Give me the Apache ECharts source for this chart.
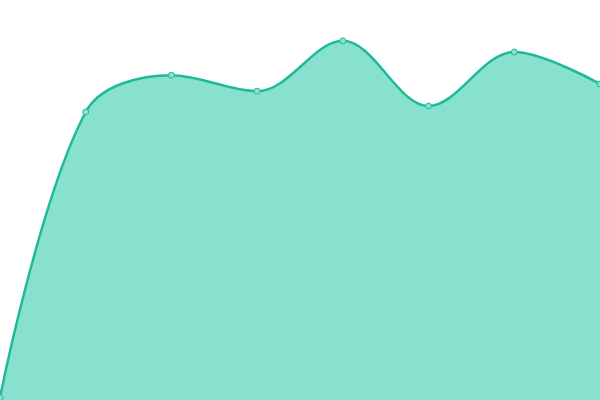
<!DOCTYPE html>
<html>
<head>
<meta charset="utf-8">
<script src="https://cdn.jsdelivr.net/npm/echarts@6/dist/echarts.min.js"></script>
<style>
    html, body { margin: 0; padding: 0; background: #fff; }
    #main { width: 600px; height: 400px; }
</style>
</head>
<body>
<div id="main"></div>
<script>
// 数据
var categories = ['1', '2', '3', '4', '5', '6', '7', '8'];
var values = [0.6, 72, 81.2, 77.2, 89.8, 73.5, 87, 79];

var myChart = echarts.init(document.getElementById('main'));
var option = {
    animation: false,
    grid: { left: 0, right: 0, top: 0, bottom: 0 },
    xAxis: {
        type: 'category',
        boundaryGap: false,
        data: categories,
        show: false
    },
    yAxis: {
        type: 'value',
        min: 0,
        max: 100,
        show: false
    },
    series: [
        {
            type: 'line',
            smooth: 0.35,
            data: values,
            symbol: 'circle',
            symbolSize: 6,
            lineStyle: { color: '#1fba98', width: 2.5 },
            itemStyle: { color: '#8ce0cf', borderColor: '#1fba98', borderWidth: 1 },
            areaStyle: { color: '#88e0cf', opacity: 1 }
        }
    ]
};
myChart.setOption(option);
</script>
</body>
</html>
